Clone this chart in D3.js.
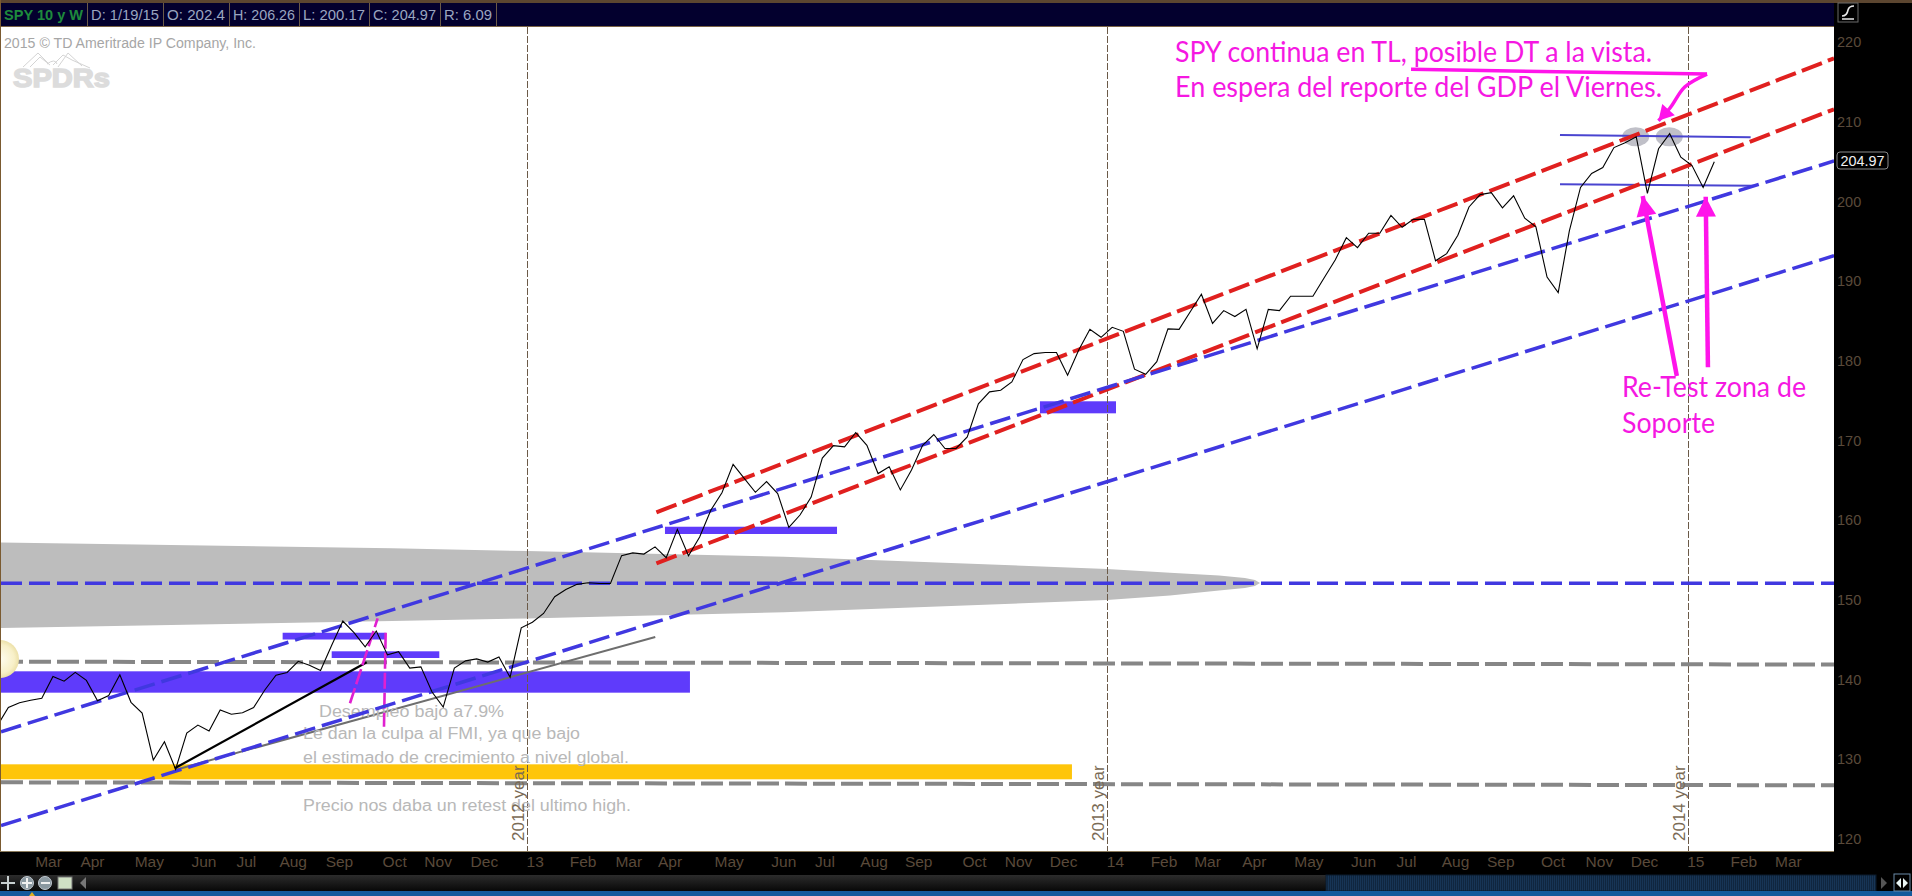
<!DOCTYPE html>
<html>
<head>
<meta charset="utf-8">
<script src="https://cdn.jsdelivr.net/npm/d3@7"></script>
<style>
html,body{margin:0;padding:0;background:#000;overflow:hidden}
svg{display:block}
text{font-family:"Liberation Sans",Arial,sans-serif}
.narrow{font-family:"Liberation Sans Narrow","Liberation Sans",Arial,sans-serif}
text.callout{font-family:Lato,"Noto Sans",sans-serif}
</style>
</head>
<body>
<svg id="c" width="1912" height="896"></svg>
<script>
// weekly closes of SPY (one value per week)
const spyCloses = [134.2,136.5,137.1,137.4,137.65,140.4,139.8,140.9,139.9,137.35,
138.0,140.6,137.15,135.8,129.9,132.2,128.75,133.3,134.3,133.55,
136.2,135.65,135.85,136.5,138.7,140.55,140.9,142.3,141.8,141.15,
144.3,147.35,145.9,144.1,146.1,143.1,143.5,141.45,141.6,138.45,
136.55,141.45,142.35,142.6,142.2,142.85,140.3,146.5,147.2,148.3,
150.4,151.3,151.95,152.15,152.05,152.05,155.55,155.9,155.75,156.65,
155.3,158.85,155.55,157.9,161.25,163.45,167.0,165.25,163.5,164.85,
163.35,159.1,160.65,162.9,167.8,169.35,169.2,171.0,169.4,165.85,
166.7,163.8,166.3,169.4,170.75,169.0,169.0,170.45,174.6,176.1,
176.3,177.35,180.15,180.9,181.05,181.05,178.2,181.35,183.95,182.95,
184.2,183.7,178.95,178.3,179.9,184.0,183.95,186.15,188.35,184.7,
186.3,185.55,186.45,181.5,186.45,186.3,188.1,188.1,188.1,190.4,
192.65,195.45,194.2,196.0,196.0,198.25,196.75,197.75,197.75,192.55,
193.45,195.75,199.3,200.85,201.1,199.2,200.7,197.9,196.8,190.5,
188.55,196.3,201.75,203.5,204.25,206.75,207.35,208.1,201.0,206.6,
208.5,205.55,204.5,201.75,204.97];

const priceTicks = [120,130,140,150,160,170,180,190,200,210,220];
const monthLabels = ["Mar","Apr","May","Jun","Jul","Aug","Sep","Oct","Nov","Dec","13","Feb","Mar","Apr","May","Jun","Jul","Aug","Sep","Oct","Nov","Dec","14","Feb","Mar","Apr","May","Jun","Jul","Aug","Sep","Oct","Nov","Dec","15","Feb","Mar"];
const monthWeeks = [4.56,8.5,13.6,18.5,22.3,26.5,30.65,35.6,39.5,43.65,48.2,52.5,56.6,60.3,65.6,70.5,74.2,78.6,82.6,87.6,91.55,95.6,100.25,104.6,108.5,112.7,117.6,122.5,126.35,130.75,134.8,139.5,143.65,147.7,152.3,156.6,160.6];

const yearWeeks = [47.52,99.53,151.6];
const yearLabels = ["2012 year","2013 year","2014 year"];

// [week0, price0, week1, price1]
const blueTrends = [[0.34,133.46,164.74,205.07],[0.34,121.69,164.74,193.19],[0.34,152.08,164.74,152.08]];
const redTrends = [[59.12,160.99,164.74,217.95],[59.12,154.59,164.74,211.56]];
const grayLevels = [[0.34,142.25,164.74,141.89],[0.34,127.11,164.74,126.74]];
const thinLevels = [[140.16,208.33,157.26,208.04],[140.16,202.15,157.65,201.97]];
const grayTrend = [15.95,128.66,59.02,145.35];
const blackTrend = [15.92,128.87,33.14,142.17];

// [week0, week1, priceTop, priceBottom]
const purpleZones = [[0.34,62.13,141.04,138.36],[25.6,34.84,145.88,145.03],[30,39.65,143.55,142.71],[59.89,75.32,159.18,158.27],[93.52,100.34,174.92,173.41]];
const yellowZone = [0.34,96.39,129.37,127.49];

const wedgeWeeks = [0.34,35.41,47.52,70.57,99.53,105.18,109.58,111.9,112.8,113.26];
const wedgeTop = [157.19,156.47,156.13,155.42,153.88,153.4,153.06,152.75,152.5,152.12];
const wedgeBottom = [146.47,147.35,147.67,148.44,149.99,150.55,151.18,151.49,151.74,152.12];

const topMarks = [[146.95,208.12],[149.96,208.12]];

const swoosh = [[126.8,216.57],[153.35,215.98],[151.37,214.39],[150.03,211.72],[148.99,210.12]];
const arrowA = [[150.64,178.09],[147.58,200.68]];
const arrowB = [[153.43,179.18],[153.23,200.59]];
const pinkSlant = [31.64,137.03,34.12,147.67];
const pinkDrop = [34.84,145.88,34.69,134.09];

const headerCells = ["D: 1/19/15","O: 202.4","H: 206.26","L: 200.17","C: 204.97","R: 6.09"];
const headerEdges = [87,163,229,299,369,440,496];
const grayNotes = ["Desempleo bajo a7.9%","Le dan la culpa al FMI, ya que bajo","el estimado de crecimiento a nivel global.","Precio nos daba un retest del ultimo high."];

const svg = d3.select("#c");
const L=1, R=1834, T=27, B=851;
const x = d3.scaleLinear().domain([0,154]).range([-2.8,1714.3]);
const y = d3.scaleLinear().domain([120,220]).range([839,42]);
const defs = svg.append("defs");
defs.append("clipPath").attr("id","plot").append("rect").attr("x",L).attr("y",T).attr("width",R-L).attr("height",B-T);
const glow = defs.append("radialGradient").attr("id","glow");
glow.append("stop").attr("offset","0%").attr("stop-color","#fffdf0");
glow.append("stop").attr("offset","75%").attr("stop-color","#f8f0c8");
glow.append("stop").attr("offset","100%").attr("stop-color","#ece0a8");
const tb = defs.append("linearGradient").attr("id","tb").attr("x1",0).attr("x2",0).attr("y1",0).attr("y2",1);
tb.append("stop").attr("offset","0%").attr("stop-color","#2c2c2c");
tb.append("stop").attr("offset","100%").attr("stop-color","#080808");
const hatch = defs.append("pattern").attr("id","hatch").attr("width",2).attr("height",4).attr("patternUnits","userSpaceOnUse");
hatch.append("rect").attr("width",2).attr("height",4).attr("fill","#10263f");
hatch.append("rect").attr("width",1).attr("height",4).attr("fill","#173556");

// chrome
svg.append("rect").attr("width",1912).attr("height",896).attr("fill","#000");
svg.append("rect").attr("x",L).attr("y",T).attr("width",R-L).attr("height",B-T).attr("fill","#fff");
svg.append("rect").attr("x",0).attr("y",0).attr("width",1912).attr("height",3).attr("fill","#5c4630");
svg.append("rect").attr("x",0).attr("y",3).attr("width",R).attr("height",23).attr("fill","#03002e");
svg.append("rect").attr("x",0).attr("y",26).attr("width",R).attr("height",1).attr("fill","#7a6245");
svg.append("rect").attr("x",0).attr("y",0).attr("width",1).attr("height",B).attr("fill","#7a5a30");
svg.append("rect").attr("x",0).attr("y",B).attr("width",R).attr("height",1).attr("fill","#8a7a5a");

const plot = svg.append("g").attr("clip-path","url(#plot)");

// watermark
plot.append("text").attr("x",4).attr("y",48).attr("fill","#a6a6a6").attr("font-size",14).attr("textLength",252).attr("lengthAdjust","spacingAndGlyphs").text("2015 \u00a9 TD Ameritrade IP Company, Inc.");
plot.append("text").attr("x",13).attr("y",87).attr("fill","#dcdcdc").attr("font-size",26).attr("font-weight","bold").attr("stroke","#dcdcdc").attr("stroke-width",1.5).attr("textLength",97).attr("lengthAdjust","spacingAndGlyphs").text("SPDRs");
plot.append("path").attr("d","M23 67 L38 53 L48 63 M30 67 L40 57 L50 65 M53 65 L63 55 L72 60 L90 68 M58 67 L68 53 L82 66 M47 64 Q55 58 57 64").attr("fill","none").attr("stroke","#d4d4d4").attr("stroke-width",1);

// wedge
const area = d3.area().x((d,i)=>x(wedgeWeeks[i])).y0((d,i)=>y(wedgeBottom[i])).y1(d=>y(d));
plot.append("path").attr("d",area(wedgeTop)).attr("fill","#bdbdbd");

// zones
plot.append("rect").attr("x",x(yellowZone[0])).attr("width",x(yellowZone[1])-x(yellowZone[0])).attr("y",y(yellowZone[2])).attr("height",y(yellowZone[3])-y(yellowZone[2])).attr("fill","#fec50a");
plot.selectAll(".zone").data(purpleZones).join("rect").attr("class","zone")
  .attr("x",d=>x(d[0])).attr("width",d=>x(d[1])-x(d[0])).attr("y",d=>y(d[2])).attr("height",d=>y(d[3])-y(d[2])).attr("fill","#5f3bfb");

// year markers
plot.selectAll(".yr").data(yearWeeks).join("line").attr("class","yr")
  .attr("x1",d=>Math.round(x(d))+0.5).attr("x2",d=>Math.round(x(d))+0.5).attr("y1",T).attr("y2",B)
  .attr("stroke","#6b5a48").attr("stroke-width",1).attr("stroke-dasharray","7,2");

function seg(sel,cls,data,color,w,dash){
  sel.selectAll("."+cls).data(data).join("line").attr("class",cls)
    .attr("x1",d=>x(d[0])).attr("y1",d=>y(d[1])).attr("x2",d=>x(d[2])).attr("y2",d=>y(d[3]))
    .attr("stroke",color).attr("stroke-width",w).attr("stroke-dasharray",dash||null);
}
seg(plot,"gl",grayLevels,"#868686",4,"22,6");
seg(plot,"gt",[grayTrend],"#6e6e6e",2);
seg(plot,"bt",[blackTrend],"#000",2.2);

// top marks
plot.selectAll(".tm").data(topMarks).join("ellipse").attr("class","tm")
  .attr("cx",d=>x(d[0])).attr("cy",d=>y(d[1])).attr("rx",13.5).attr("ry",9.5).attr("fill","#c0c0c8");
seg(plot,"tl",thinLevels,"#4a45d0",2);

// grey notes
const noteG = plot.append("g").attr("fill","#b8b8b8").attr("font-size",16);
noteG.append("text").attr("x",319).attr("y",717).attr("textLength",185).attr("lengthAdjust","spacingAndGlyphs").text(grayNotes[0]);
noteG.append("text").attr("x",303).attr("y",739).attr("textLength",277).attr("lengthAdjust","spacingAndGlyphs").text(grayNotes[1]);
noteG.append("text").attr("x",303).attr("y",763).attr("textLength",326).attr("lengthAdjust","spacingAndGlyphs").text(grayNotes[2]);
noteG.append("text").attr("x",303).attr("y",811).attr("textLength",328).attr("lengthAdjust","spacingAndGlyphs").text(grayNotes[3]);

// pink side lines
seg(plot,"ps",[pinkSlant,pinkDrop],"#e020d0",2.6,"16,4");

// trend channels
seg(plot,"rd",redTrends,"#e0201f",4,"21.5,6.4");
seg(plot,"bl",blueTrends,"#4038e0",3.5,"21,7");

// price
const line = d3.line().x((d,i)=>x(i)).y(d=>y(d));
plot.append("path").attr("d",line(spyCloses)).attr("fill","none").attr("stroke","#000").attr("stroke-width",1.1);

// glow at left edge
plot.append("circle").attr("cx",0).attr("cy",659).attr("r",19).attr("fill","url(#glow)");

// year labels
yearWeeks.forEach((w,i)=>{
  plot.append("text").attr("transform",`translate(${x(w)-3},841) rotate(-90)`).attr("fill","#7a6a55").attr("font-size",17).text(yearLabels[i]);
});

// pink arrows
const PINK="#ff14ea";
function head(p0,p1,len,hw){
  const a=[x(p0[0]),y(p0[1])], b=[x(p1[0]),y(p1[1])];
  const dx=b[0]-a[0], dy=b[1]-a[1], n=Math.hypot(dx,dy), ux=dx/n, uy=dy/n;
  const bx=b[0]-ux*len, by=b[1]-uy*len;
  return `M${b[0]},${b[1]}L${bx-uy*hw},${by+ux*hw}L${bx+uy*hw},${by-ux*hw}Z`;
}
const pl = d3.line().x(d=>x(d[0])).y(d=>y(d[1]));
[arrowA,arrowB].forEach(a=>{
  plot.append("path").attr("d",pl(a)).attr("stroke",PINK).attr("stroke-width",4.5).attr("fill","none");
  plot.append("path").attr("d",head(a[0],a[1],20,10)).attr("fill",PINK);
});
plot.append("path").attr("d",pl(swoosh.slice(0,2))).attr("stroke",PINK).attr("stroke-width",3.5).attr("fill","none");
plot.append("path").attr("d",d3.line().x(d=>x(d[0])).y(d=>y(d[1])).curve(d3.curveCatmullRom)(swoosh.slice(1))).attr("stroke",PINK).attr("stroke-width",3.5).attr("fill","none");
plot.append("path").attr("d",head(swoosh[3],swoosh[4],15,8.5)).attr("fill",PINK);

const magenta = plot.append("g").attr("fill","#f518e2").attr("font-size",28);
const callout = (px,py,len,t)=>magenta.append("text").attr("class","callout").attr("x",px).attr("y",py).attr("textLength",len).attr("lengthAdjust","spacingAndGlyphs").text(t);
callout(1175,62,477,"SPY continua en TL, posible DT a la vista.");
callout(1175,97,487,"En espera del reporte del GDP el Viernes.");
callout(1622,397,184,"Re-Test zona de");
callout(1622,433,93,"Soporte");

// axes
const yAxis = d3.axisRight(y).tickValues(priceTicks).tickSize(0).tickPadding(3);
const yG = svg.append("g").attr("transform",`translate(${R},0)`).call(yAxis);
yG.select(".domain").remove();
yG.selectAll("text").attr("fill","#5a4a3a").attr("font-size",14.5).style("font-family","'Liberation Sans',Arial,sans-serif");

const xAxis = d3.axisBottom(x).tickValues(monthWeeks).tickFormat((d,i)=>monthLabels[i]).tickSize(0).tickPadding(5);
const xG = svg.append("g").attr("transform",`translate(0,${B})`).call(xAxis);
xG.select(".domain").remove();
xG.selectAll("text").attr("class","narrow").attr("fill","#5a4a3a").attr("font-size",15.5);

// last price tag
svg.append("rect").attr("x",1837).attr("y",152).attr("width",51).attr("height",17).attr("rx",3).attr("fill","#000").attr("stroke","#8a8a8a");
svg.append("text").attr("x",1862.5).attr("y",166).attr("text-anchor","middle").attr("fill","#f0f0f0").attr("font-size",14).attr("textLength",44).attr("lengthAdjust","spacingAndGlyphs").text("204.97");

// header
svg.append("text").attr("x",4).attr("y",20).attr("fill","#1e8a3c").attr("font-size",14.5).attr("font-weight","bold").attr("textLength",79).attr("lengthAdjust","spacingAndGlyphs").text("SPY 10 y W");
svg.selectAll(".sep").data(headerEdges).join("rect").attr("class","sep").attr("x",d=>d).attr("y",3).attr("width",1).attr("height",23).attr("fill","#6b5a48");
svg.selectAll(".hc").data(headerCells).join("text").attr("class","hc")
  .attr("x",(d,i)=>headerEdges[i]+4).attr("y",20).attr("fill","#9aa6c0").attr("font-size",14.5)
  .attr("textLength",(d,i)=>headerEdges[i+1]-headerEdges[i]-8).attr("lengthAdjust","spacingAndGlyphs").text(d=>d);
// header icon
svg.append("rect").attr("x",1838).attr("y",3).attr("width",20).attr("height",19).attr("fill","#000").attr("stroke","#6a6a6a");
svg.append("path").attr("d","M1842 16 Q1847 16 1848 10 Q1849 6 1854 6 M1842 19 H1854").attr("fill","none").attr("stroke","#e8e8e8").attr("stroke-width",1.6);

// toolbar
svg.append("rect").attr("x",0).attr("y",875).attr("width",1326).attr("height",16).attr("fill","url(#tb)");
svg.append("rect").attr("x",1326).attr("y",875).attr("width",550).attr("height",16).attr("fill","url(#hatch)").attr("stroke","#0a1a2c");
svg.append("rect").attr("x",0).attr("y",891).attr("width",1912).attr("height",5).attr("fill","#145a9c");
// toolbar buttons
svg.append("path").attr("d","M8 876 V890 M1 883 H15").attr("stroke","#c8d0d0").attr("stroke-width",2).attr("fill","none");
[[27,"M22 883 H32 M27 878 V888"],[45,"M41 883 H50"]].forEach(b=>{
  svg.append("circle").attr("cx",b[0]).attr("cy",883).attr("r",6.5).attr("fill","#8a98a0").attr("stroke","#c0c8d0");
  svg.append("path").attr("d",b[1]).attr("stroke","#f0f0f0").attr("stroke-width",2);
});
svg.append("rect").attr("x",58).attr("y",877).attr("width",14).attr("height",12).attr("fill","#cfe0c4").attr("stroke","#777");
svg.append("path").attr("d","M86 877 V889 L80 883 Z").attr("fill","#777");
svg.append("path").attr("d","M29 896 L32 892 L35 896 Z").attr("fill","#e0b020");
svg.append("path").attr("d","M1881 877 V889 L1887 883 Z").attr("fill","#555");
svg.append("rect").attr("x",1894).attr("y",874).attr("width",16).attr("height",17).attr("fill","#000").attr("stroke","#6a8aa8");
svg.append("path").attr("d","M1901 878 V888 L1896 883 Z M1903 878 V888 L1908 883 Z").attr("fill","#e8f4f4");
</script>
</body>
</html>
